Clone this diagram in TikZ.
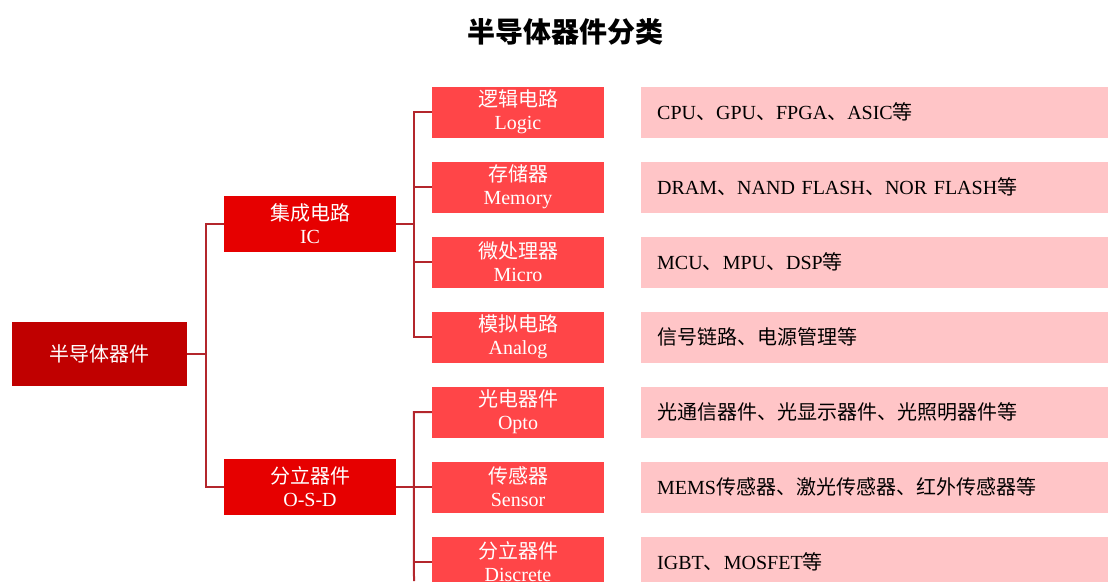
\documentclass[tikz,border=0pt]{standalone}
\usepackage{fontspec}
\setmainfont{Liberation Serif}
\newfontfamily\cjk{Noto Sans CJK SC}
\newcommand\zh[1]{{\cjk #1}}
\definecolor{rootred}{HTML}{C00000}
\definecolor{midred}{HTML}{E60000}
\definecolor{leafred}{HTML}{FF4548}
\definecolor{descpink}{HTML}{FFC5C7}
\definecolor{linered}{HTML}{B3262C}
\begin{document}
\begin{tikzpicture}[x=1pt,y=-1pt,
  box/.style={inner sep=0pt, align=center, text=white,
    font=\fontsize{20}{23}\selectfont},
  rootbox/.style={box, fill=rootred, minimum width=175pt, minimum height=64pt},
  midbox/.style={box, fill=midred, minimum width=172pt, minimum height=56pt},
  leafbox/.style={box, fill=leafred, minimum width=172pt, minimum height=51pt},
  descbox/.style={fill=descpink, anchor=west, minimum width=467pt, minimum height=51pt,
    text width=435pt, inner xsep=16pt, inner ysep=0pt, align=left, text=black,
    font=\fontsize{20}{23}\selectfont},
  conn/.style={draw=linered, line width=2pt},
]
\useasboundingbox (0,0) rectangle (1108,581);

\node[font=\cjk\bfseries\fontsize{28}{30}\selectfont] (title) at (565,32) {半导体器件分类};

\node[rootbox] (root) at (99.5,354) {\zh{半导体器件}};
\node[midbox] (ic) at (310,224) {\zh{集成电路}\\IC};
\node[midbox] (osd) at (310,486.5) {\zh{分立器件}\\O-S-D};

\node[leafbox] (logic) at (518,112) {\zh{逻辑电路}\\Logic};
\node[leafbox] (memory) at (518,187) {\zh{存储器}\\Memory};
\node[leafbox] (micro) at (518,262) {\zh{微处理器}\\Micro};
\node[leafbox] (analog) at (518,337) {\zh{模拟电路}\\Analog};
\node[leafbox] (opto) at (518,412) {\zh{光电器件}\\Opto};
\node[leafbox] (sensor) at (518,487) {\zh{传感器}\\Sensor};
\node[leafbox] (discrete) at (518,562) {\zh{分立器件}\\Discrete};

\node[descbox] (d1) at (641,112) {CPU\zh{、}GPU\zh{、}FPGA\zh{、}ASIC\zh{等}};
\node[descbox] (d2) at (641,187) {DRAM\zh{、}NAND FLASH\zh{、}NOR FLASH\zh{等}};
\node[descbox] (d3) at (641,262) {MCU\zh{、}MPU\zh{、}DSP\zh{等}};
\node[descbox] (d4) at (641,337) {\zh{信号链路、电源管理等}};
\node[descbox] (d5) at (641,412) {\zh{光通信器件、光显示器件、光照明器件等}};
\node[descbox] (d6) at (641,487) {MEMS\zh{传感器、激光传感器、红外传感器等}};
\node[descbox] (d7) at (641,562) {IGBT\zh{、}MOSFET\zh{等}};

\coordinate (bl) at (206,354);
\coordinate (bot) at (414,581);
\draw[conn] (root.east) -- (bl);
\draw[conn] (ic.west) -| (bl) |- (osd.west);

\draw[conn] (ic.east) -- ++(18,0);
\draw[conn] (logic.west) -- ++(-18,0) |- (analog.west);
\draw[conn] (memory.west) -- ++(-18,0);
\draw[conn] (micro.west) -- ++(-18,0);

\draw[conn] (osd.east) -- ++(18,0);
\draw[conn] (opto.west) -- ++(-18,0) -- (bot);
\draw[conn] (sensor.west) -- ++(-18,0);
\draw[conn] (discrete.west) -- ++(-18,0);
\end{tikzpicture}
\end{document}
